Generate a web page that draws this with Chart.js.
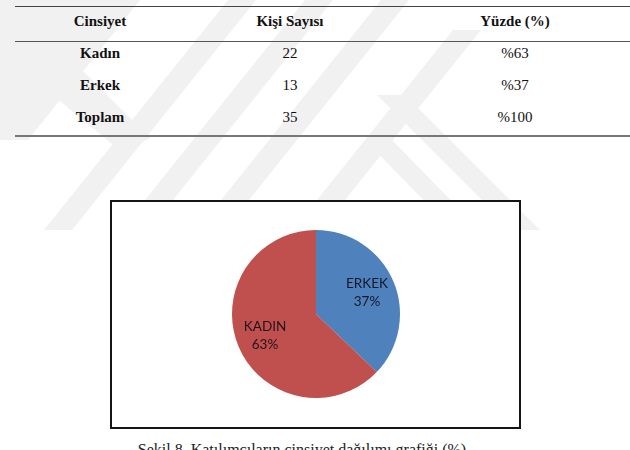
<!DOCTYPE html>
<html>
<head>
<meta charset="utf-8">
<script src="https://cdn.jsdelivr.net/npm/chart.js@4.4.1/dist/chart.umd.min.js"></script>
<style>
  body { margin: 0; background: #fff; }
  #page { position: relative; width: 630px; height: 450px; overflow: hidden; background: #fff; font-family: "Liberation Serif", "Times New Roman", serif; }
  #wm { position: absolute; left: 0; top: 0; }
  .rule { position: absolute; left: 15px; right: 0; }
  .cell { position: absolute; width: 160px; margin-left: -80px; text-align: center; font-size: 15px; line-height: 18px; color: #111; }
  .bold { font-weight: bold; }
  #box { position: absolute; left: 110px; top: 200px; width: 407px; height: 225px; border: 2px solid #151515; background: #fff; }
  #pie { position: absolute; left: 226px; top: 224px; }
  #caption { position: absolute; left: 0; width: 604px; top: 441px; text-align: center; font-size: 16px; color: #222; }
</style>
</head>
<body>
<div id="page">
  <svg id="wm" width="630" height="450">
    <g fill="#f1f1f1">
      <!-- "/" strokes -->
      <polygon points="112,0 140,0 28,140 0,140 0,0"/>
      <polygon points="228,0 256,0 72,230 44,230"/>
      <polygon points="305,0 333,0 149,230 121,230"/>
      <polygon points="381,0 409,0 225,230 197,230"/>
      <polygon points="453,30 481,30 321,230 293,230"/>
      <!-- "\" strokes -->
      <polygon points="0,22 34,22 150,138 122,152 0,52"/>
      <polygon points="365,140 392,140 470,220 443,220"/>
      <polygon points="377,95 405,95 540,230 512,230"/>
    </g>
  </svg>
  <div class="rule" style="top:6px;border-top:1.5px solid #444;"></div>
  <div class="rule" style="top:41px;border-top:1px solid #555;"></div>
  <div class="rule" style="top:135px;border-top:2px solid #777;"></div>
  <div id="table"></div>
  <div id="box"></div>
  <canvas id="pie" width="180" height="180"></canvas>
  <div id="caption">Şekil 8. Katılımcıların cinsiyet dağılımı grafiği (%)</div>
</div>
<script>
// table data
const headers = ['Cinsiyet', 'Kişi Sayısı', 'Yüzde (%)'];
const rowLabels = ['Kadın', 'Erkek', 'Toplam'];
const rowCounts = [22, 13, 35];
const rowPercents = ['%63', '%37', '%100'];

// pie data
const categories = ['ERKEK', 'KADIN'];
const counts = [13, 22];
const percents = [37, 63];
const colors = ['#4F81BD', '#C0504D'];

// build the table
const colX = [100, 290, 515];
const table = document.getElementById('table');
function addCell(text, x, y, bold) {
  let d = document.createElement('div');
  d.className = 'cell' + (bold ? ' bold' : '');
  d.style.left = x + 'px';
  d.style.top = (y - 9) + 'px';
  d.textContent = text;
  table.appendChild(d);
}
headers.forEach((h, i) => addCell(h, colX[i], 21, true));
rowLabels.forEach((lab, i) => {
  let y = 53 + i * 32;
  addCell(lab, colX[0], y, true);
  addCell(String(rowCounts[i]), colX[1], y, false);
  addCell(rowPercents[i], colX[2], y, false);
});

// labels inside the slices
const sliceLabels = {
  id: 'sliceLabels',
  afterDatasetsDraw(chart) {
    const ctx = chart.ctx;
    const arcs = chart.getDatasetMeta(0).data;
    ctx.save();
    ctx.font = '13.5px Lato, "Open Sans", sans-serif';
    ctx.fillStyle = 'rgba(10,10,20,0.88)';
    ctx.textAlign = 'center';
    ctx.textBaseline = 'middle';
    arcs.forEach((arc, i) => {
      const mid = (arc.startAngle + arc.endAngle) / 2;
      const r = arc.outerRadius * 0.66;
      const x = arc.x + Math.cos(mid) * r;
      const y = arc.y + Math.sin(mid) * r;
      ctx.fillText(categories[i], x, y - 9);
      ctx.fillText(percents[i] + '%', x, y + 9);
    });
    ctx.restore();
  }
};

new Chart(document.getElementById('pie'), {
  type: 'pie',
  data: {
    labels: categories,
    datasets: [{
      data: counts,
      backgroundColor: colors,
      borderWidth: 0
    }]
  },
  options: {
    responsive: false,
    animation: false,
    layout: { padding: 6 },
    plugins: {
      legend: { display: false },
      tooltip: { enabled: false }
    }
  },
  plugins: [sliceLabels]
});
</script>
</body>
</html>
